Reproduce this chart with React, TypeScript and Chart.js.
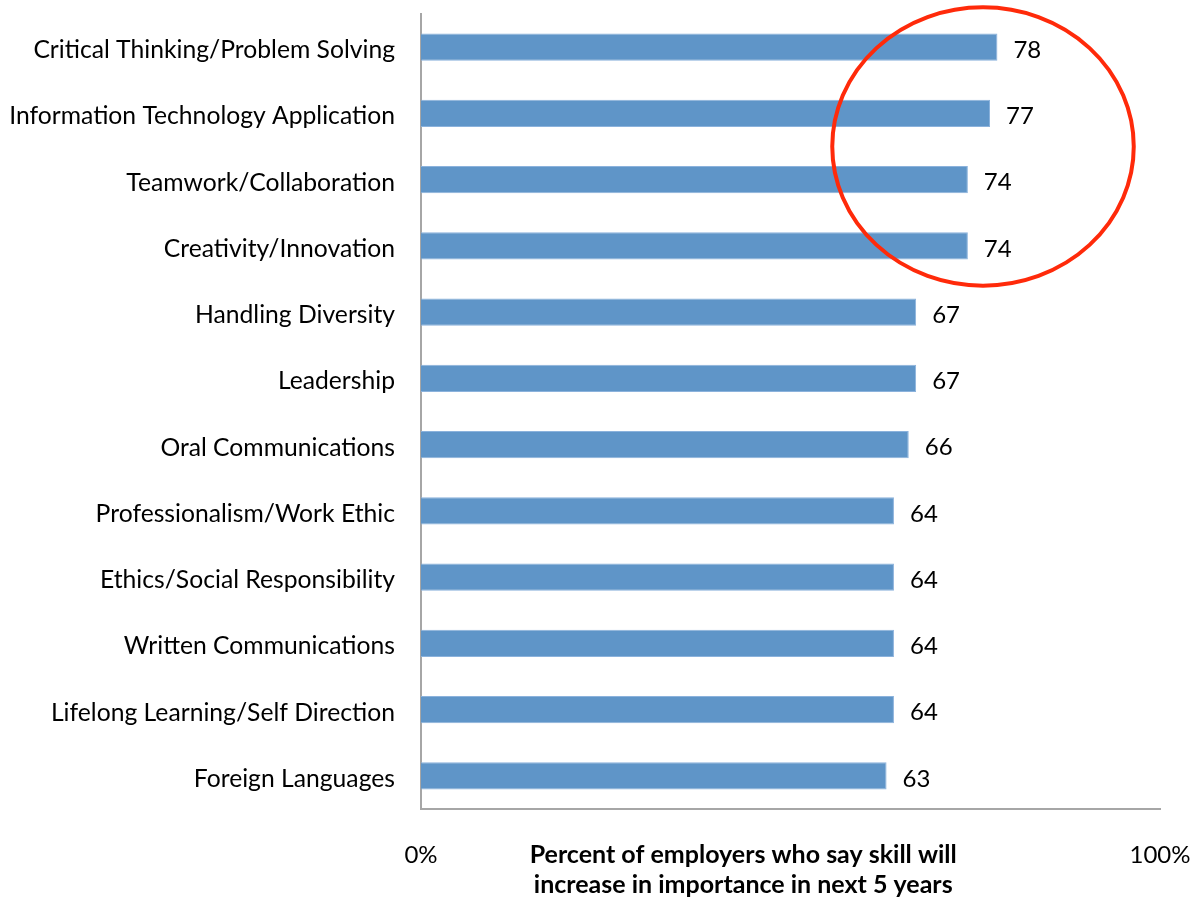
import React, { useEffect, useRef } from "react";
import { Chart, registerables } from "chart.js";

Chart.register(...registerables);

const categories = [
  "Critical Thinking/Problem Solving",
  "Information Technology Application",
  "Teamwork/Collaboration",
  "Creativity/Innovation",
  "Handling Diversity",
  "Leadership",
  "Oral Communications",
  "Professionalism/Work Ethic",
  "Ethics/Social Responsibility",
  "Written Communications",
  "Lifelong Learning/Self Direction",
  "Foreign Languages",
];
const values = [78, 77, 74, 74, 67, 67, 66, 64, 64, 64, 64, 63];
const xTicks = [0, 100];
const axisTitle = ["Percent of employers who say skill will", "increase in importance in next 5 years"];
// the axis title is centred at this value of the x axis (it is not centred on the axis)
const axisTitleCenter = 43.6;
// highlight ellipse in data units: center value, center category index, radii
const ellipseCenter = { x: 76.05, y: 1.5 };
const ellipseRadius = { x: 20.4, y: 2.1 };

const FONT = "Lato, 'Open Sans', sans-serif";

const valueLabels = {
  id: "valueLabels",
  afterDatasetsDraw(chart: any) {
    const ctx = chart.ctx;
    const meta = chart.getDatasetMeta(0);
    ctx.save();
    ctx.font = `24px ${FONT}`;
    ctx.fillStyle = "#000";
    ctx.textAlign = "left";
    ctx.textBaseline = "middle";
    meta.data.forEach((bar: any, i: number) => {
      ctx.fillText(String(values[i]), bar.x + 16, bar.y + 3);
    });
    ctx.restore();
  },
};

const shiftYLabels = {
  id: "shiftYLabels",
  afterLayout(chart: any) {
    const s = chart.scales.y;
    if (!s || s.__shifted) return;
    const orig = s.drawLabels.bind(s);
    s.drawLabels = (area: any) => {
      s.ctx.save();
      s.ctx.translate(0, 3);
      orig(area);
      s.ctx.restore();
    };
    s.__shifted = true;
  },
};

const xTitle = {
  id: "xTitle",
  afterDraw(chart: any) {
    const ctx = chart.ctx;
    const x = chart.scales.x;
    const cx = x.getPixelForValue(axisTitleCenter);
    ctx.save();
    ctx.font = `bold 25px ${FONT}`;
    ctx.fillStyle = "#000";
    ctx.textAlign = "center";
    ctx.textBaseline = "middle";
    axisTitle.forEach((line, i) => {
      ctx.fillText(line, cx, x.top + 46 + i * 30);
    });
    ctx.restore();
  },
};

const highlight = {
  id: "highlight",
  afterDraw(chart: any) {
    const { x, y } = chart.scales;
    const cx = x.getPixelForValue(ellipseCenter.x);
    const cy = y.getPixelForValue(ellipseCenter.y);
    const rx = x.getPixelForValue(ellipseCenter.x + ellipseRadius.x) - cx;
    const ry = y.getPixelForValue(ellipseCenter.y + ellipseRadius.y) - cy;
    const ctx = chart.ctx;
    ctx.save();
    ctx.strokeStyle = "#ff2a0a";
    ctx.lineWidth = 4;
    ctx.beginPath();
    ctx.ellipse(cx, cy, Math.abs(rx), Math.abs(ry), 0, 0, Math.PI * 2);
    ctx.stroke();
    ctx.restore();
  },
};

export default function App() {
  const ref = useRef<HTMLCanvasElement>(null);
  useEffect(() => {
    if (!ref.current) return;
    const chart = new Chart(ref.current, {
      type: "bar",
      data: {
        labels: categories,
        datasets: [
          {
            data: values,
            backgroundColor: "#5f95c8",
            borderColor: "#8bb2dc",
            borderWidth: 1,
            categoryPercentage: 1,
            barPercentage: 0.41,
          },
        ],
      },
      options: {
        indexAxis: "y",
        animation: false,
        responsive: false,
        layout: { padding: { top: 14, right: 38, left: 0, bottom: 0 } },
        plugins: { legend: { display: false }, tooltip: { enabled: false } },
        scales: {
          x: {
            min: 0,
            max: 100,
            afterBuildTicks: (s: any) => {
              s.ticks = xTicks.map((v) => ({ value: v }));
            },
            afterFit: (s: any) => {
              s.height = 90;
              s.paddingLeft = 0;
              s.paddingRight = 0;
            },
            grid: { display: false, drawTicks: false },
            border: { color: "#a6a6a6", width: 2 },
            ticks: {
              padding: 32,
              color: "#000",
              font: { family: FONT, size: 24 },
              maxRotation: 0,
              callback: (v: any) => v + "%",
            },
            title: { display: false },
          },
          y: {
            grid: { display: false, drawTicks: false },
            border: { color: "#a6a6a6", width: 2 },
            afterFit: (s: any) => {
              s.width = 421;
              s.paddingTop = 0;
              s.paddingBottom = 0;
            },
            ticks: {
              padding: 26,
              color: "#000",
              font: { family: FONT, size: 24.7 },
            },
          },
        },
      },
      plugins: [shiftYLabels, valueLabels, xTitle, highlight],
    } as any);
    return () => chart.destroy();
  }, []);
  return (
    <div style={{ position: "fixed", left: 0, top: 0, width: 1198, height: 899, background: "#fff" }}>
      <canvas ref={ref} width={1198} height={899} style={{ width: 1198, height: 899 }} />
    </div>
  );
}
